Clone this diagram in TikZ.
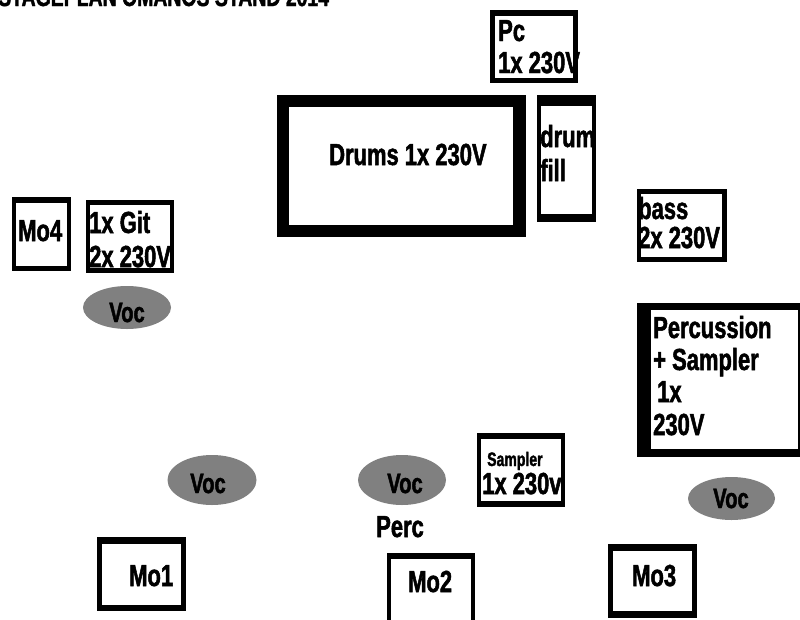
\documentclass[tikz,border=0pt]{standalone}
\usepackage{fontspec}
\newfontfamily\imp[FakeStretch=0.72,FakeBold=1.6]{Liberation Sans Bold}
\begin{document}
\begin{tikzpicture}[x=1pt,y=-1pt,
  lbl/.style={inner sep=0pt,anchor=base west,font=\imp\fontsize{30.5}{30}\selectfont},
  small/.style={inner sep=0pt,anchor=base west,font=\imp\fontsize{19.5}{20}\selectfont},
  vtxt/.style={inner sep=0pt,anchor=base,font=\imp\fontsize{28}{28}\selectfont}]
\newcommand\frm[8]{\fill[black] (#1,#2) rectangle (#3,#4);
  \fill[white] (#1+#5,#2+#6) rectangle (#3-#7,#4-#8);}
\useasboundingbox (0,0) rectangle (800,619);
\fill[white] (0,0) rectangle (800,619);
\begin{scope}
\clip (0,0) rectangle (800,619);
% title
\node[inner sep=0pt,anchor=base west,font=\imp\fontsize{27}{27}\selectfont] (title) at (-2,6) {STAGEPLAN OMANOS STAND 2014};
% boxes
\frm{490}{10}{578}{83}{5}{6}{5}{5}
\frm{277}{95}{526}{237}{12}{12}{13}{12}
\frm{537}{95}{596}{222}{4}{11}{4}{8}
\frm{12}{197}{71}{271}{4}{6}{4}{5}
\frm{86}{200}{174}{273}{4}{5}{4}{5}
\frm{637}{189}{727}{262}{4}{5}{5}{5}
\frm{637}{303}{801}{457}{14}{7}{3}{8}
\frm{477}{433}{565}{507}{4}{6}{4}{6}
\frm{97}{537}{186}{611}{5}{7}{5}{6}
\frm{387}{553}{475}{630}{4}{6}{4}{5}
\frm{608}{544}{697}{618}{5}{7}{5}{7}
% ellipses
\fill[black!50] (127,307.5) ellipse[x radius=44,y radius=21.5];
\fill[black!50] (731.5,498.5) ellipse[x radius=43.5,y radius=21.5];
\fill[black!50] (212,480) ellipse[x radius=44.5,y radius=25];
\fill[black!50] (402,480) ellipse[x radius=44,y radius=25];
% texts
\node[lbl] (pc1) at (498,41) {Pc};
\node[lbl] (pc2) at (498,73) {1x 230V};
\node[lbl] (drums) at (329,165) {Drums 1x 230V};
\node[lbl] (df1) at (540,147) {drum};
\node[lbl] (df2) at (540,181) {fill};
\node[lbl] (mo4) at (18,241) {Mo4};
\node[lbl] (git1) at (89,233) {1x Git};
\node[lbl] (git2) at (89,267) {2x 230V};
\node[lbl] (bass1) at (638,219) {bass};
\node[lbl] (bass2) at (638,248) {2x 230V};
\node[lbl] (per1) at (653,338) {Percussion};
\node[lbl] (per2) at (653,370) {+ Sampler};
\node[lbl] (per3) at (657,402) {1x};
\node[lbl] (per4) at (653,435) {230V};
\node[small] (smp1) at (487,466) {Sampler};
\node[lbl] (smp2) at (482,494) {1x 230v};
\node[vtxt] (v1) at (127,322) {Voc};
\node[vtxt] (v2) at (731,508) {Voc};
\node[vtxt] (v3) at (208,493) {Voc};
\node[vtxt] (v4) at (405,493) {Voc};
\node[lbl] (perc) at (376,537) {Perc};
\node[lbl] (mo1) at (129,586) {Mo1};
\node[lbl] (mo2) at (408,592) {Mo2};
\node[lbl] (mo3) at (632,586) {Mo3};
\end{scope}
\end{tikzpicture}
\end{document}
